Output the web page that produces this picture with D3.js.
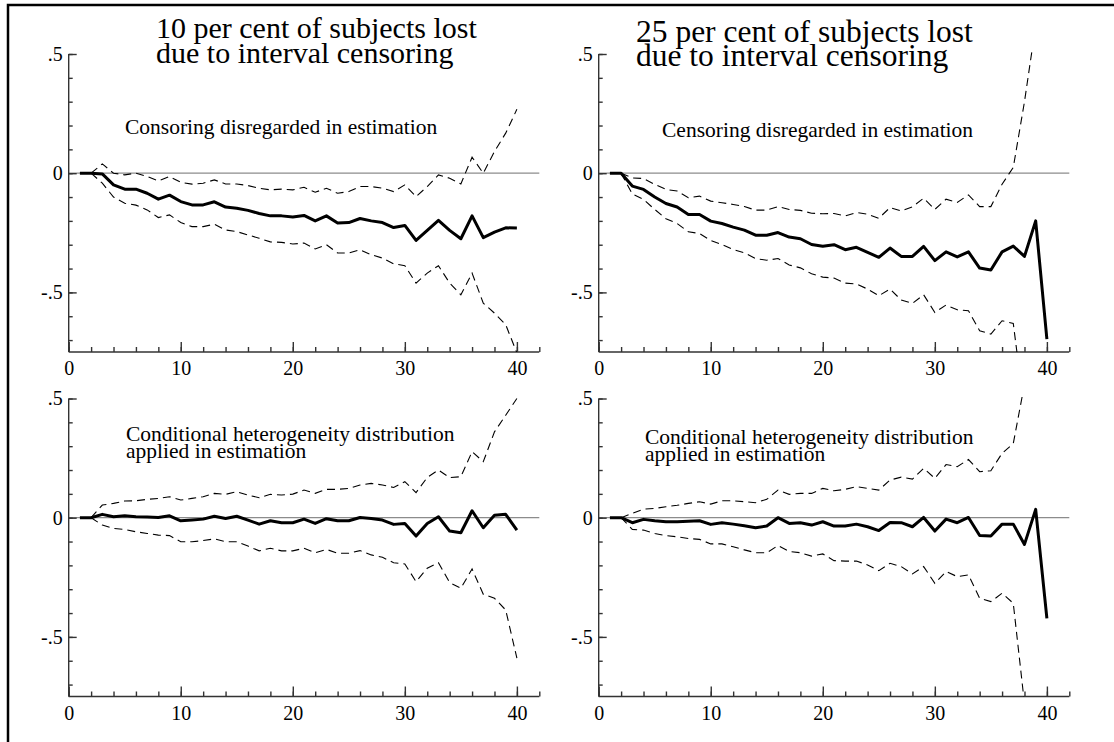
<!DOCTYPE html>
<html><head><meta charset="utf-8">
<script src="https://cdn.jsdelivr.net/npm/d3@7"></script>
<style>
body{margin:0;background:#fff;}
svg text{font-family:"Liberation Serif","DejaVu Serif",serif;fill:#000;}
</style></head><body>
<svg id="chart" width="1114" height="742"></svg>
<script>
// Horizon (1..40) and axis ticks
const steps = d3.range(1, 41);
const xTickValues = d3.range(0, 43, 2);
const xLabelValues = [0, 10, 20, 30, 40];
const yTickValues = d3.range(-7, 6).map(d => d / 10);
const yLabelValues = [0.5, 0, -0.5];
const yLabelText = [".5", "0", "-.5"];

const titleLeft = ["10 per cent of subjects lost", "due to interval censoring"];
const titleRight = ["25 per cent of subjects lost", "due to interval censoring"];
const noteTopLeft = ["Consoring disregarded in estimation"];
const noteTopRight = ["Censoring disregarded in estimation"];
const noteBottom = ["Conditional heterogeneity distribution", "applied in estimation"];

// 10 per cent lost, censoring disregarded
const tlEst = [0, 0, -0.003, -0.049, -0.067, -0.067, -0.084, -0.109, -0.092, -0.119, -0.133, -0.133, -0.120, -0.142, -0.147, -0.156, -0.169, -0.179, -0.179, -0.184, -0.177, -0.200, -0.179, -0.209, -0.207, -0.190, -0.200, -0.207, -0.228, -0.219, -0.282, -0.240, -0.198, -0.240, -0.275, -0.179, -0.270, -0.247, -0.229, -0.230];
const tlUpper = [null, 0, 0.039, 0, -0.007, 0, -0.014, -0.032, -0.014, -0.038, -0.046, -0.042, -0.028, -0.045, -0.045, -0.052, -0.063, -0.070, -0.067, -0.070, -0.059, -0.080, -0.063, -0.084, -0.077, -0.056, -0.056, -0.063, -0.077, -0.049, -0.098, -0.056, -0.007, -0.021, -0.045, 0.067, 0, 0.091, 0.168, 0.268];
const tlLower = [null, 0, -0.042, -0.100, -0.126, -0.134, -0.154, -0.186, -0.175, -0.207, -0.224, -0.224, -0.214, -0.238, -0.245, -0.259, -0.273, -0.288, -0.290, -0.297, -0.293, -0.318, -0.300, -0.335, -0.335, -0.321, -0.342, -0.356, -0.380, -0.388, -0.461, -0.419, -0.388, -0.461, -0.510, -0.419, -0.545, -0.587, -0.635, -0.754];

// 25 per cent lost, censoring disregarded
const trEst = [0, 0, -0.054, -0.068, -0.100, -0.127, -0.142, -0.173, -0.173, -0.201, -0.211, -0.226, -0.239, -0.260, -0.260, -0.249, -0.268, -0.275, -0.299, -0.306, -0.300, -0.321, -0.311, -0.332, -0.353, -0.314, -0.349, -0.349, -0.307, -0.367, -0.330, -0.351, -0.330, -0.398, -0.406, -0.330, -0.306, -0.349, -0.200, -0.696];
const trUpper = [null, 0, -0.020, -0.022, -0.047, -0.068, -0.075, -0.103, -0.096, -0.117, -0.124, -0.131, -0.140, -0.155, -0.155, -0.140, -0.152, -0.156, -0.168, -0.170, -0.169, -0.179, -0.165, -0.172, -0.189, -0.144, -0.158, -0.141, -0.105, -0.152, -0.109, -0.123, -0.091, -0.140, -0.140, -0.046, 0.024, 0.300, 0.620, null];
const trLower = [null, 0, -0.087, -0.110, -0.152, -0.191, -0.211, -0.246, -0.253, -0.282, -0.299, -0.320, -0.334, -0.358, -0.365, -0.358, -0.385, -0.397, -0.422, -0.436, -0.440, -0.461, -0.465, -0.486, -0.514, -0.486, -0.532, -0.546, -0.510, -0.584, -0.553, -0.573, -0.577, -0.661, -0.675, -0.619, -0.630, -1.000, null, null];

// 10 per cent lost, conditional heterogeneity distribution
const blEst = [0, 0, 0.014, 0.004, 0.008, 0.004, 0.003, 0.001, 0.008, -0.013, -0.010, -0.006, 0.006, -0.003, 0.006, -0.010, -0.027, -0.013, -0.021, -0.021, -0.006, -0.024, -0.004, -0.013, -0.013, 0.001, -0.003, -0.010, -0.028, -0.024, -0.077, -0.024, 0.004, -0.056, -0.063, 0.029, -0.042, 0.010, 0.014, -0.052];
const blUpper = [null, 0, 0.053, 0.060, 0.070, 0.071, 0.077, 0.081, 0.088, 0.074, 0.081, 0.088, 0.102, 0.098, 0.109, 0.095, 0.084, 0.098, 0.095, 0.099, 0.116, 0.102, 0.119, 0.119, 0.123, 0.137, 0.144, 0.137, 0.127, 0.151, 0.105, 0.169, 0.200, 0.168, 0.172, 0.277, 0.235, 0.360, 0.430, 0.500];
const blLower = [null, 0, -0.031, -0.045, -0.049, -0.059, -0.066, -0.073, -0.075, -0.101, -0.101, -0.096, -0.089, -0.101, -0.101, -0.119, -0.139, -0.128, -0.139, -0.139, -0.128, -0.147, -0.133, -0.149, -0.149, -0.138, -0.156, -0.166, -0.189, -0.194, -0.268, -0.212, -0.189, -0.272, -0.296, -0.215, -0.321, -0.338, -0.387, -0.589];

// 25 per cent lost, conditional heterogeneity distribution
const brEst = [0, 0, -0.021, -0.007, -0.013, -0.017, -0.017, -0.015, -0.013, -0.028, -0.021, -0.027, -0.034, -0.042, -0.035, 0.000, -0.024, -0.021, -0.031, -0.017, -0.035, -0.035, -0.027, -0.038, -0.054, -0.020, -0.021, -0.038, 0.001, -0.056, -0.006, -0.021, 0.001, -0.075, -0.077, -0.027, -0.027, -0.112, 0.035, -0.422];
const brUpper = [null, 0, 0.018, 0.036, 0.039, 0.046, 0.052, 0.060, 0.067, 0.057, 0.071, 0.071, 0.067, 0.063, 0.077, 0.116, 0.098, 0.102, 0.102, 0.123, 0.113, 0.119, 0.130, 0.123, 0.116, 0.158, 0.170, 0.162, 0.207, 0.165, 0.223, 0.214, 0.244, 0.193, 0.197, 0.270, 0.311, 0.560, null, null];
const brLower = [null, 0, -0.049, -0.052, -0.066, -0.075, -0.080, -0.087, -0.091, -0.110, -0.110, -0.122, -0.135, -0.147, -0.147, -0.117, -0.142, -0.147, -0.161, -0.152, -0.180, -0.182, -0.182, -0.198, -0.222, -0.191, -0.205, -0.236, -0.205, -0.275, -0.226, -0.247, -0.240, -0.338, -0.352, -0.317, -0.359, -0.780, null, null];

const svg = d3.select("#chart");
const FONT = '"Liberation Serif","DejaVu Serif",serif';

// frame: top and left rules
svg.append("path").attr("d", "M8,742V5H1114").attr("fill", "none")
  .attr("stroke", "#000").attr("stroke-width", 2.5);

const panels = [
  { id: "tl", est: tlEst, upper: tlUpper, lower: tlLower, x0: 68.7, x1: 539.3, y0: 54, y1: 352 },
  { id: "tr", est: trEst, upper: trUpper, lower: trLower, x0: 598.7, x1: 1069.3, y0: 54, y1: 352 },
  { id: "bl", est: blEst, upper: blUpper, lower: blLower, x0: 68.7, x1: 539.3, y0: 398.5, y1: 696.5 },
  { id: "br", est: brEst, upper: brUpper, lower: brLower, x0: 598.7, x1: 1069.3, y0: 398.5, y1: 696.5 }
];

const axisColor = "#333";

panels.forEach(p => {
  const x = d3.scaleLinear().domain([0, 42]).range([p.x0, p.x1]);
  const y = d3.scaleLinear().domain([-0.75, 0.5]).range([p.y1, p.y0]);
  const g = svg.append("g");

  g.append("clipPath").attr("id", "clip-" + p.id)
    .append("rect").attr("x", p.x0).attr("y", p.y0 - 3)
    .attr("width", p.x1 - p.x0).attr("height", p.y1 - p.y0 + 3);

  // zero reference
  g.append("line").attr("x1", x(0)).attr("x2", x(42)).attr("y1", y(0)).attr("y2", y(0))
    .attr("stroke", "#8c8c8c").attr("stroke-width", 1.2);

  // x axis: minor and major ticks drawn inward
  const xMinor = d3.axisBottom(x).tickValues(xTickValues).tickSize(-5).tickFormat("");
  const xMajor = d3.axisBottom(x).tickValues(xLabelValues).tickSize(-10).tickPadding(9)
    .tickFormat(d3.format("d"));
  const gxMinor = g.append("g").attr("transform", `translate(0,${p.y1})`).call(xMinor);
  gxMinor.select(".domain").remove();
  const gx = g.append("g").attr("transform", `translate(0,${p.y1})`).call(xMajor);
  gx.select(".domain").attr("d", `M${x(0)},0H${x(42)}`);
  [gxMinor, gx].forEach(a => {
    a.selectAll("line,path").attr("stroke", axisColor).attr("stroke-width", 1.4);
  });
  gx.selectAll("text").attr("font-family", FONT).attr("font-size", 20).attr("fill", "#000");

  // y axis: minor and major ticks drawn inward
  const yMinor = d3.axisLeft(y).tickValues(yTickValues).tickSize(-4).tickFormat("");
  const yMajor = d3.axisLeft(y).tickValues(yLabelValues).tickSize(-8).tickPadding(6)
    .tickFormat((d, i) => yLabelText[i]);
  const gyMinor = g.append("g").attr("transform", `translate(${p.x0},0)`).call(yMinor);
  gyMinor.select(".domain").remove();
  const gy = g.append("g").attr("transform", `translate(${p.x0},0)`).call(yMajor);
  gy.select(".domain").attr("d", `M0,${y(0.5)}V${y(-0.75)}`);
  [gyMinor, gy].forEach(a => {
    a.selectAll("line,path").attr("stroke", axisColor).attr("stroke-width", 1.4);
  });
  gy.selectAll("text").attr("font-family", FONT).attr("font-size", 20).attr("fill", "#000");

  const line = d3.line()
    .defined(d => d[1] !== null)
    .x(d => x(d[0])).y(d => y(d[1]));

  const plot = g.append("g").attr("clip-path", `url(#clip-${p.id})`);
  [p.upper, p.lower].forEach(series => {
    plot.append("path")
      .attr("d", line(steps.map((s, i) => [s, series[i]])))
      .attr("fill", "none").attr("stroke", "#000").attr("stroke-width", 1.1)
      .attr("stroke-dasharray", "8,5");
  });
  plot.append("path")
    .attr("d", line(steps.map((s, i) => [s, p.est[i]])))
    .attr("fill", "none").attr("stroke", "#000").attr("stroke-width", 3)
    .attr("stroke-linejoin", "round");
});

// headings and panel notes
function block(lines, x, y, size, lead) {
  const t = svg.append("text").attr("x", x).attr("y", y)
    .attr("font-family", FONT).attr("font-size", size);
  lines.forEach((s, i) => t.append("tspan").attr("x", x).attr("dy", i === 0 ? 0 : lead).text(s));
}
block(titleLeft, 156, 38, 30, 25);
block(titleRight, 636, 42, 31.5, 24);
block(noteTopLeft, 125, 134, 21.5, 17);
block(noteTopRight, 662, 137, 21.5, 17);
block(noteBottom, 126, 441, 21.5, 17);
block(noteBottom, 645, 444, 21.5, 17);
</script>
</body></html>
